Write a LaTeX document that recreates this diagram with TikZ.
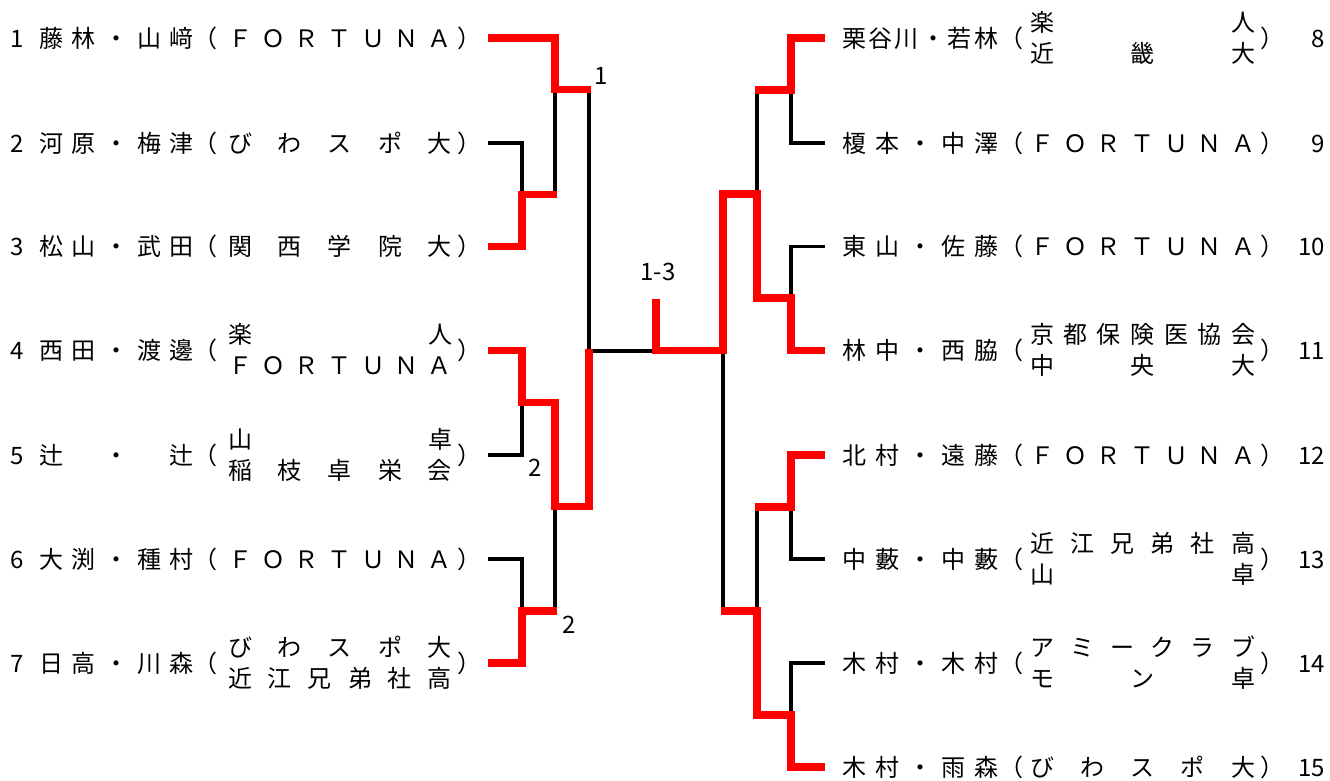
\documentclass[tikz,border=0pt]{standalone}
\usepackage{fontspec}
\setmainfont{Noto Sans CJK JP}
\tikzset{
  txt/.style={inner sep=0pt, outer sep=0pt, font=\fontsize{24pt}{30pt}\selectfont},
  lbl/.style={inner sep=0pt, font=\fontsize{24pt}{28pt}\selectfont},
  lose/.style={draw=black, line width=3.5pt, line join=miter},
  win/.style={draw=red, line width=7.5pt, line join=miter}
}
% left rows: #1 number, #2 y, #3 names, #4 club
\newcommand\Lrow[4]{%
  \node[txt,anchor=base west] (num#1) at (10,#2+9) {#1};
  \node[txt,anchor=base west] (nm#1) at (39,#2+9) {\hbox to 155pt{#3}};
  \node[txt,anchor=base west] (op#1) at (193,#2+9) {（};
  \node[txt,anchor=base west] (cl#1) at (228,#2+9) {\hbox to 224pt{#4}};
  \node[txt,anchor=base west] (cp#1) at (457,#2+9) {）};}
\newcommand\LrowB[5]{%
  \node[txt,anchor=base west] (num#1) at (10,#2+9) {#1};
  \node[txt,anchor=base west] (nm#1) at (39,#2+9) {\hbox to 155pt{#3}};
  \node[txt,anchor=base west] (op#1) at (193,#2+9) {（};
  \node[txt,anchor=base west] (cla#1) at (228,#2-7) {\hbox to 224pt{#4}};
  \node[txt,anchor=base west] (clb#1) at (228,#2+24) {\hbox to 224pt{#5}};
  \node[txt,anchor=base west] (cp#1) at (457,#2+9) {）};}
% right rows
\newcommand\Rrow[4]{%
  \node[txt,anchor=base west] (nm#1) at (842,#2+9) {\hbox to 156pt{#3}};
  \node[txt,anchor=base west] (op#1) at (999,#2+9) {（};
  \node[txt,anchor=base west] (cl#1) at (1030,#2+9) {\hbox to 225pt{#4}};
  \node[txt,anchor=base west] (cp#1) at (1260,#2+9) {）};
  \node[txt,anchor=base east] (num#1) at (1325,#2+9) {#1};}
\newcommand\RrowB[5]{%
  \node[txt,anchor=base west] (nm#1) at (842,#2+9) {\hbox to 156pt{#3}};
  \node[txt,anchor=base west] (op#1) at (999,#2+9) {（};
  \node[txt,anchor=base west] (cla#1) at (1030,#2-7) {\hbox to 225pt{#4}};
  \node[txt,anchor=base west] (clb#1) at (1030,#2+24) {\hbox to 225pt{#5}};
  \node[txt,anchor=base west] (cp#1) at (1260,#2+9) {）};
  \node[txt,anchor=base east] (num#1) at (1325,#2+9) {#1};}
\newcommand\FORT{Ｆ\hfill Ｏ\hfill Ｒ\hfill Ｔ\hfill Ｕ\hfill Ｎ\hfill Ａ}
\newcommand\BIWA{び\hfill わ\hfill ス\hfill ポ\hfill 大}
\newcommand\OMI{近\hfill 江\hfill 兄\hfill 弟\hfill 社\hfill 高}

\begin{document}
\begin{tikzpicture}[x=1pt,y=-1pt]
\fill[white] (0,0) rectangle (1330,780);
\useasboundingbox (0,0) rectangle (1330,780);

% ---------- texts ----------
\Lrow{1}{38}{藤\hfill 林\hfill ・\hfill 山\hfill 﨑}{\FORT}
\Lrow{2}{143}{河\hfill 原\hfill ・\hfill 梅\hfill 津}{\BIWA}
\Lrow{3}{246.5}{松\hfill 山\hfill ・\hfill 武\hfill 田}{関\hfill 西\hfill 学\hfill 院\hfill 大}
\LrowB{4}{350.5}{西\hfill 田\hfill ・\hfill 渡\hfill 邊}{楽\hfill 人}{\FORT}
\LrowB{5}{455}{辻\hfill ・\hfill 辻}{山\hfill 卓}{稲\hfill 枝\hfill 卓\hfill 栄\hfill 会}
\Lrow{6}{559}{大\hfill 渕\hfill ・\hfill 種\hfill 村}{\FORT}
\LrowB{7}{663}{日\hfill 高\hfill ・\hfill 川\hfill 森}{\BIWA}{\OMI}

\RrowB{8}{38}{栗\hfill 谷\hfill 川\hfill ・\hfill 若\hfill 林}{楽\hfill 人}{近\hfill 畿\hfill 大}
\Rrow{9}{143}{榎\hfill 本\hfill ・\hfill 中\hfill 澤}{\FORT}
\Rrow{10}{246.5}{東\hfill 山\hfill ・\hfill 佐\hfill 藤}{\FORT}
\RrowB{11}{350.5}{林\hfill 中\hfill ・\hfill 西\hfill 脇}{京\hfill 都\hfill 保\hfill 険\hfill 医\hfill 協\hfill 会}{中\hfill 央\hfill 大}
\Rrow{12}{455}{北\hfill 村\hfill ・\hfill 遠\hfill 藤}{\FORT}
\RrowB{13}{559}{中\hfill 藪\hfill ・\hfill 中\hfill 藪}{\OMI}{山\hfill 卓}
\RrowB{14}{663}{木\hfill 村\hfill ・\hfill 木\hfill 村}{ア\hfill ミ\hfill ー\hfill ク\hfill ラ\hfill ブ}{モ\hfill ン\hfill 卓}
\Rrow{15}{767}{木\hfill 村\hfill ・\hfill 雨\hfill 森}{\BIWA}

% ---------- score labels ----------
\node[lbl] (s1) at (601,76) {1};
\node[lbl] (s2) at (535,468) {2};
\node[lbl] (s3) at (569,625) {2};
\node[lbl] (s4) at (658,272) {1-3};

% ---------- losing (black) lines ----------
\draw[lose] (488,143) -- (522,143) -- (522,194.5);
\draw[lose] (488,455) -- (522,455) -- (522,402.5);
\draw[lose] (488,559) -- (522,559) -- (522,611);
\draw[lose] (555,89.5) -- (555,194.5);
\draw[lose] (555,611) -- (555,506.5);
\draw[lose] (589,89.5) -- (589,351) -- (656,351);
\draw[lose] (825,143) -- (791,143) -- (791,90);
\draw[lose] (825,246.5) -- (791,246.5) -- (791,298);
\draw[lose] (825,559) -- (791,559) -- (791,507);
\draw[lose] (825,663) -- (791,663) -- (791,715);
\draw[lose] (757,90) -- (757,194);
\draw[lose] (757,507) -- (757,611);
\draw[lose] (723,350.5) -- (723,611);

% ---------- winning (red) lines ----------
\draw[win] (488,38) -- (555,38) -- (555,89.5) -- (591,89.5);
\draw[win] (488,246.5) -- (522,246.5) -- (522,194.5) -- (557,194.5);
\draw[win] (488,350.5) -- (522,350.5) -- (522,402.5) -- (555,402.5) -- (555,506.5) -- (589,506.5) -- (589,349);
\draw[win] (488,663) -- (522,663) -- (522,611) -- (557,611);
\draw[win] (656,299) -- (656,350.5) -- (723,350.5) -- (723,194) -- (757,194) -- (757,298) -- (791,298) -- (791,350.5) -- (825,350.5);
\draw[win] (825,38) -- (791,38) -- (791,90) -- (755,90);
\draw[win] (825,455) -- (791,455) -- (791,507) -- (755,507);
\draw[win] (825,767) -- (791,767) -- (791,715) -- (757,715) -- (757,611) -- (721,611);
\end{tikzpicture}
\end{document}
